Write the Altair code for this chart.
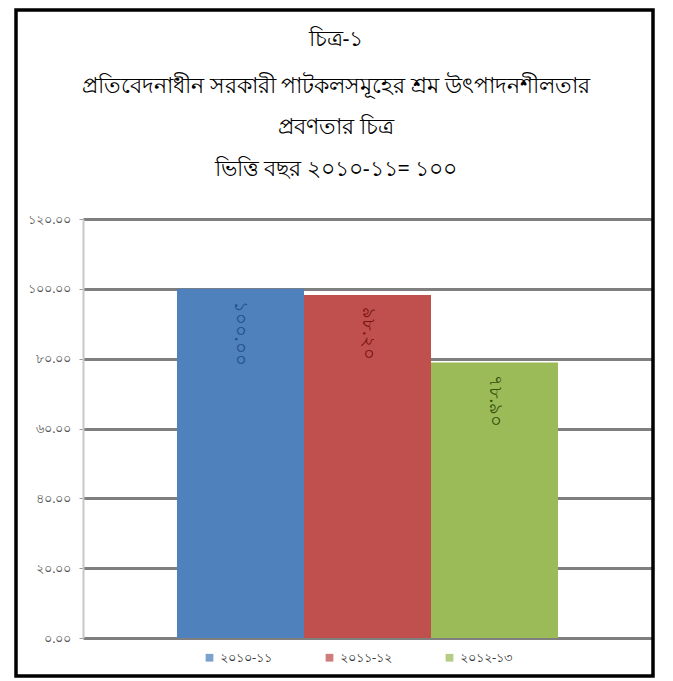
import altair as alt
import pandas as pd

years = ["২০১০-১১", "২০১১-১২", "২০১২-১৩"]
values = [100.00, 98.20, 78.90]
tick_values = [0, 20, 40, 60, 80, 100, 120]
title_lines = [
    "চিত্র-১",
    "প্রতিবেদনাধীন সরকারী পাটকলসমূহের শ্রম উৎপাদনশীলতার",
    "প্রবণতার চিত্র",
    "ভিত্তি বছর ২০১০-১১= ১০০",
]
title_offsets = [-179, -132, -91, -49]

BN = str.maketrans("0123456789", "০১২৩৪৫৬৭৮৯")

def bn(v):
    return f"{v:.2f}".translate(BN)

bar_colors = ["#4f81bd", "#c0504d", "#9bbb59"]
label_colors = ["#1f4f86", "#7a1410", "#355208"]

df = pd.DataFrame({"year": years, "value": values, "label": [bn(v) for v in values]})

label_expr = "".join(
    f"datum.value == {t} ? '{bn(t)}' : " for t in tick_values
) + "''"

FONT = "Noto Sans"

base = alt.Chart(df).encode(
    x=alt.X("year:N", sort=years, axis=None,
            scale=alt.Scale(paddingInner=0, paddingOuter=0.74)),
)

bars = base.mark_bar().encode(
    y=alt.Y("value:Q",
            scale=alt.Scale(domain=[0, 120], nice=False),
            axis=alt.Axis(values=tick_values, title=None, labelExpr=label_expr,
                          grid=True, gridColor="#7f7f7f", gridWidth=3,
                          domainColor="#c8c8c8", domainWidth=2,
                          tickColor="#9a9a9a", tickSize=4, tickWidth=1,
                          labelColor="#555555", labelFontSize=12.5, labelFont=FONT,
                          labelPadding=8)),
    color=alt.Color("year:N", sort=years,
                    scale=alt.Scale(domain=years, range=bar_colors),
                    legend=alt.Legend(orient="none", legendX=120, legendY=432,
                                      direction="horizontal", title=None,
                                      symbolType="square", symbolSize=60,
                                      symbolOpacity=0.75,
                                      labelFontSize=13, labelFont=FONT,
                                      labelColor="#333333", columnPadding=50)),
)

texts = base.mark_text(angle=90, align="left", baseline="middle", dx=12,
                       fontSize=18, font=FONT).encode(
    y=alt.Y("value:Q"),
    text="label:N",
    color=alt.Color("year:N", sort=years,
                    scale=alt.Scale(domain=years, range=label_colors),
                    legend=None),
)

title_layers = [
    alt.Chart(pd.DataFrame({"t": [line]})).mark_text(
        fontSize=21.5, font=FONT, color="black", align="center", baseline="middle",
        clip=False
    ).encode(text="t:N", x=alt.value(253), y=alt.value(off))
    for line, off in zip(title_lines, title_offsets)
]

frame = alt.Chart(pd.DataFrame({"f": [0]})).mark_rect(
    fill=None, stroke="black", strokeWidth=3.5, clip=False
).encode(
    x=alt.value(-67), x2=alt.value(570), y=alt.value(-209), y2=alt.value(457)
)

chart = alt.layer(bars, texts, *title_layers, frame).resolve_scale(
    color="independent"
).properties(
    width=569, height=419,
    autosize=alt.AutoSizeParams(type="none"),
    padding={"left": 75, "top": 211, "right": 12, "bottom": 40},
).configure_view(stroke=None).configure(background="white")

chart.save("out.html", embed_options={"renderer": "svg", "actions": False})
